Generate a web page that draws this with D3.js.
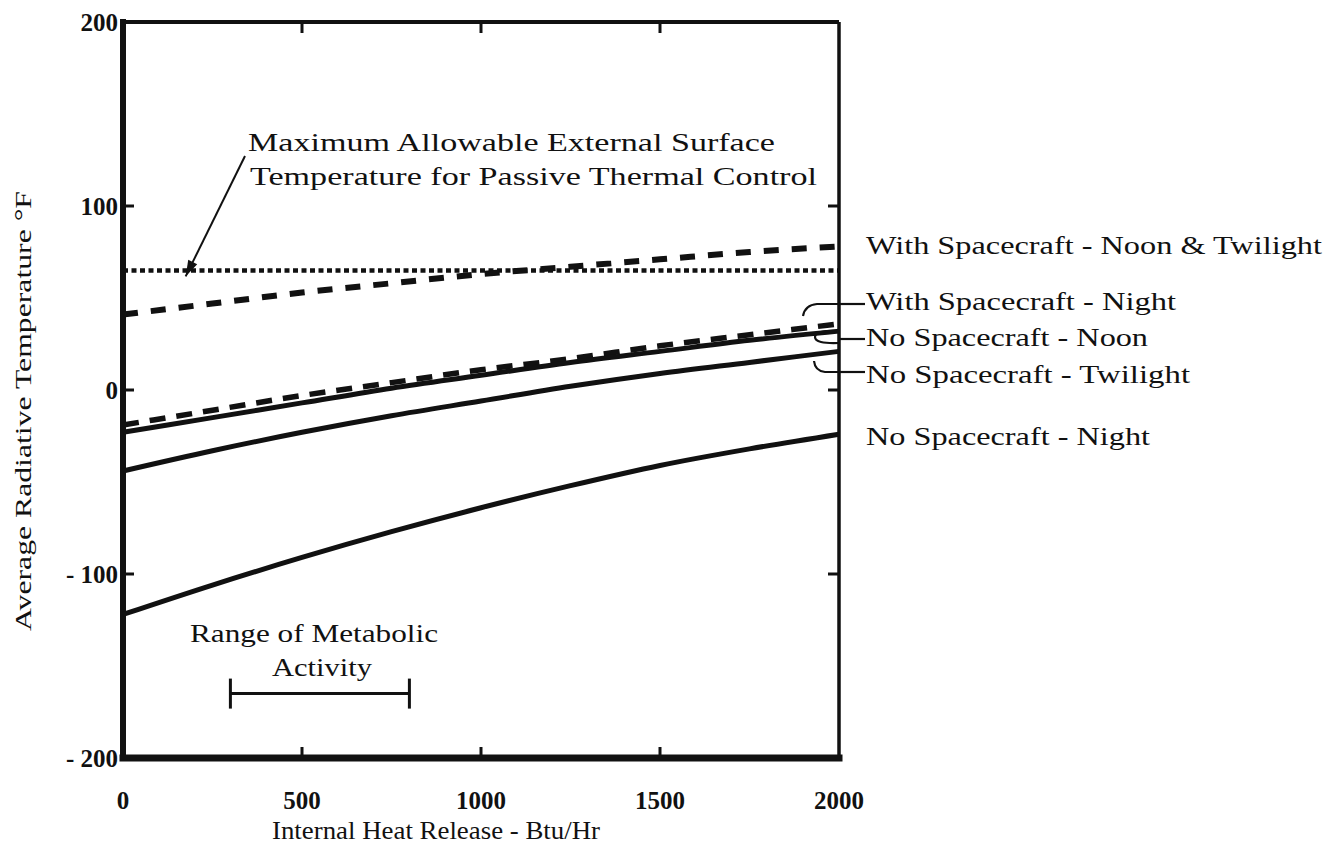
<!DOCTYPE html>
<html>
<head>
<meta charset="utf-8">
<script src="https://cdn.jsdelivr.net/npm/d3@7"></script>
<style>
  html, body { margin: 0; padding: 0; background: #fff; }
  svg { display: block; }
  text { font-family: "Liberation Serif", "DejaVu Serif", serif; fill: #111; }
</style>
</head>
<body>
<svg id="chart" width="1337" height="866"></svg>
<script>
// Internal heat release, Btu/Hr
const heatRelease = [0, 250, 500, 750, 1000, 1250, 1500, 1750, 2000];

// Average radiative temperature, °F, for each configuration
const withSpacecraftNoonTwilight = [41, 47, 53, 58, 63, 67, 71, 75, 78];
const withSpacecraftNight        = [-19, -11, -3, 4, 11, 17, 24, 30, 36];
const noSpacecraftNoon           = [-23, -15, -7, 1, 8, 15, 21, 27, 32];
const noSpacecraftTwilight       = [-44, -33, -23, -14, -6, 2, 9, 15, 21];
const noSpacecraftNight          = [-122, -106, -91, -77, -64, -52, -41, -32, -24];

// Maximum allowable external surface temperature for passive thermal control
const maxAllowableTemp = 65;

// Range of metabolic activity (Btu/Hr)
const metabolicRange = [300, 800];

// Axis ticks
const xTicks = [0, 500, 1000, 1500, 2000];
const yTicks = [-200, -100, 0, 100, 200];
const yTickLabels = ["- 200", "- 100", "0", "100", "200"];

const svg = d3.select("#chart");
const x = d3.scaleLinear().domain([0, 2000]).range([123, 839]);
const y = d3.scaleLinear().domain([-200, 200]).range([758, 22]);

const ink = "#111";

// ----- frame with inward ticks -----
const frame = svg.append("g");
frame.append("line").attr("x1", x(0)).attr("x2", x(2000)).attr("y1", y(200)).attr("y2", y(200))
  .attr("stroke", ink).attr("stroke-width", 4);
frame.append("line").attr("x1", x(0)).attr("x2", x(2000)).attr("y1", y(-200)).attr("y2", y(-200))
  .attr("stroke", ink).attr("stroke-width", 7).attr("stroke-linecap", "square");
frame.append("line").attr("x1", x(0)).attr("x2", x(0)).attr("y1", y(200)).attr("y2", y(-200))
  .attr("stroke", ink).attr("stroke-width", 6).attr("stroke-linecap", "square");
frame.append("line").attr("x1", x(2000)).attr("x2", x(2000)).attr("y1", y(200)).attr("y2", y(-200))
  .attr("stroke", ink).attr("stroke-width", 3.5);

const innerX = xTicks.filter(d => d > 0 && d < 2000);
const innerY = yTicks.filter(d => d > -200 && d < 200);
const tickLen = 11;
innerX.forEach(d => {
  frame.append("line").attr("x1", x(d)).attr("x2", x(d)).attr("y1", y(200)).attr("y2", y(200) + tickLen)
    .attr("stroke", ink).attr("stroke-width", 3);
  frame.append("line").attr("x1", x(d)).attr("x2", x(d)).attr("y1", y(-200)).attr("y2", y(-200) - tickLen)
    .attr("stroke", ink).attr("stroke-width", 3);
});
innerY.forEach(d => {
  frame.append("line").attr("x1", x(0)).attr("x2", x(0) + tickLen).attr("y1", y(d)).attr("y2", y(d))
    .attr("stroke", ink).attr("stroke-width", 3);
  frame.append("line").attr("x1", x(2000)).attr("x2", x(2000) - tickLen).attr("y1", y(d)).attr("y2", y(d))
    .attr("stroke", ink).attr("stroke-width", 3);
});

// ----- tick labels -----
const tickFont = { size: 25, weight: "bold" };
svg.append("g").selectAll("text").data(yTicks).join("text")
  .attr("x", 118).attr("y", d => y(d)).attr("dy", "0.35em")
  .attr("text-anchor", "end").attr("font-size", tickFont.size).attr("font-weight", tickFont.weight)
  .text((d, i) => yTickLabels[i]);
svg.append("g").selectAll("text").data(xTicks).join("text")
  .attr("x", d => x(d)).attr("y", 809)
  .attr("text-anchor", "middle").attr("font-size", tickFont.size).attr("font-weight", tickFont.weight)
  .text(d => String(d));

// ----- axis titles -----
svg.append("text")
  .attr("x", 436).attr("y", 839).attr("text-anchor", "middle").attr("font-size", 26)
  .attr("textLength", 328).attr("lengthAdjust", "spacingAndGlyphs")
  .text("Internal Heat Release - Btu/Hr");
svg.append("text")
  .attr("transform", "translate(31,411) rotate(-90)")
  .attr("text-anchor", "middle").attr("font-size", 24)
  .attr("textLength", 440).attr("lengthAdjust", "spacingAndGlyphs")
  .text("Average Radiative Temperature °F");

// ----- curves -----
const line = d3.line()
  .x((d, i) => x(heatRelease[i]))
  .y(d => y(d))
  .curve(d3.curveMonotoneX);

const series = [
  { values: withSpacecraftNoonTwilight, width: 6, dash: "15,13" },
  { values: withSpacecraftNight, width: 5.5, dash: "16,11" },
  { values: noSpacecraftNoon, width: 5, dash: null },
  { values: noSpacecraftTwilight, width: 5, dash: null },
  { values: noSpacecraftNight, width: 5, dash: null }
];

// dotted limit line
svg.append("line")
  .attr("x1", x(0)).attr("x2", x(2000))
  .attr("y1", y(maxAllowableTemp)).attr("y2", y(maxAllowableTemp))
  .attr("stroke", ink).attr("stroke-width", 4.5).attr("stroke-dasharray", "5,3.5");

svg.append("g").selectAll("path").data(series).join("path")
  .attr("d", d => line(d.values))
  .attr("fill", "none").attr("stroke", ink)
  .attr("stroke-width", d => d.width)
  .attr("stroke-dasharray", d => d.dash);

// ----- limit line annotation -----
svg.append("text").attr("x", 248).attr("y", 151).attr("font-size", 26)
  .attr("textLength", 527).attr("lengthAdjust", "spacingAndGlyphs")
  .text("Maximum Allowable External Surface");
svg.append("text").attr("x", 250).attr("y", 185).attr("font-size", 26)
  .attr("textLength", 567).attr("lengthAdjust", "spacingAndGlyphs")
  .text("Temperature for Passive Thermal Control");

const arrowTip = [x(175), y(maxAllowableTemp) + 6];
const arrowTail = [245, 156];
svg.append("line")
  .attr("x1", arrowTail[0]).attr("y1", arrowTail[1])
  .attr("x2", arrowTip[0]).attr("y2", arrowTip[1])
  .attr("stroke", ink).attr("stroke-width", 2);
{
  const ang = Math.atan2(arrowTip[1] - arrowTail[1], arrowTip[0] - arrowTail[0]);
  const L = 16, W = 5;
  const bx = arrowTip[0] - L * Math.cos(ang), by = arrowTip[1] - L * Math.sin(ang);
  const px = -Math.sin(ang) * W, py = Math.cos(ang) * W;
  svg.append("path")
    .attr("d", `M${arrowTip[0]},${arrowTip[1]}L${bx + px},${by + py}L${bx - px},${by - py}Z`)
    .attr("fill", ink);
}

// ----- series labels at right -----
const labelX = 866;
const labels = [
  { text: "With Spacecraft - Noon & Twilight", baseline: 254, len: 456 },
  { text: "With Spacecraft - Night", baseline: 310, len: 310, leader: 304 },
  { text: "No Spacecraft - Noon", baseline: 346, len: 282, leader: 339 },
  { text: "No Spacecraft - Twilight", baseline: 383, len: 324, leader: 372 },
  { text: "No Spacecraft - Night", baseline: 445, len: 284 }
];
svg.append("g").selectAll("text").data(labels).join("text")
  .attr("x", labelX).attr("y", d => d.baseline).attr("font-size", 25)
  .attr("textLength", d => d.len).attr("lengthAdjust", "spacingAndGlyphs")
  .text(d => d.text);

// leaders from the crowded labels back to their curve ends
const xr = x(2000);
const lead = svg.append("g").attr("fill", "none").attr("stroke", ink).attr("stroke-width", 2.2);
labels.filter(d => d.leader).forEach(d => {
  lead.append("line").attr("x1", xr).attr("x2", labelX - 1).attr("y1", d.leader).attr("y2", d.leader);
});
// hook down to the dashed night curve
lead.append("path").attr("d", `M${xr},${304} L${xr - 22},${304} Q${xr - 34},${305} ${xr - 36},${316}`);
// bracket around the solid noon curve end
lead.append("path").attr("d", `M${xr},${331} Q${xr - 24},${330} ${xr - 24},${337} Q${xr - 24},${344} ${xr},${343}`);
// hook up to the solid twilight curve end
lead.append("path").attr("d", `M${xr},${372} L${xr - 14},${372} Q${xr - 24},${371} ${xr - 25},${361}`);

// ----- metabolic activity range -----
const metY = y(-165);
const met = svg.append("g").attr("stroke", ink).attr("stroke-width", 3);
met.append("line").attr("x1", x(metabolicRange[0])).attr("x2", x(metabolicRange[1])).attr("y1", metY).attr("y2", metY);
metabolicRange.forEach(v => {
  met.append("line").attr("x1", x(v)).attr("x2", x(v)).attr("y1", metY - 15).attr("y2", metY + 15);
});
svg.append("text").attr("x", 314).attr("y", 642).attr("text-anchor", "middle").attr("font-size", 26)
  .attr("textLength", 248).attr("lengthAdjust", "spacingAndGlyphs")
  .text("Range of Metabolic");
svg.append("text").attr("x", 322).attr("y", 676).attr("text-anchor", "middle").attr("font-size", 26)
  .attr("textLength", 100).attr("lengthAdjust", "spacingAndGlyphs")
  .text("Activity");
</script>
</body>
</html>
